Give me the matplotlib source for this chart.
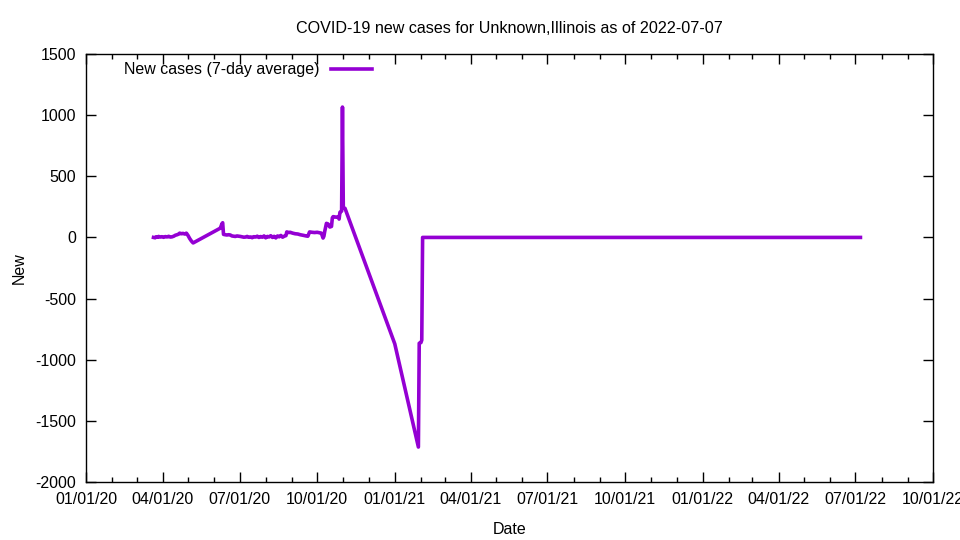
import pandas as pd
import matplotlib
matplotlib.use('Agg')
import matplotlib.pyplot as plt
import matplotlib.dates as mdates
from matplotlib.ticker import MultipleLocator

# 7-day average of new cases
dates = [
    '2020-03-21', '2020-03-23', '2020-03-24', '2020-03-26', '2020-03-27', '2020-03-29',
    '2020-03-31', '2020-04-02', '2020-04-04', '2020-04-06', '2020-04-08', '2020-04-10',
    '2020-04-12', '2020-04-14', '2020-04-16', '2020-04-18', '2020-04-20', '2020-04-21',
    '2020-04-23', '2020-04-25', '2020-04-27', '2020-04-29', '2020-05-01', '2020-05-03',
    '2020-05-05', '2020-05-07',
    '2020-06-08', '2020-06-09', '2020-06-10', '2020-06-11', '2020-06-12', '2020-06-14',
    '2020-06-16', '2020-06-18', '2020-06-20', '2020-06-22', '2020-06-24', '2020-06-26',
    '2020-06-28', '2020-06-30', '2020-07-02', '2020-07-04', '2020-07-06', '2020-07-08',
    '2020-07-10', '2020-07-12', '2020-07-14', '2020-07-16', '2020-07-18', '2020-07-20',
    '2020-07-22', '2020-07-24', '2020-07-26', '2020-07-28', '2020-07-30', '2020-08-01',
    '2020-08-03', '2020-08-05', '2020-08-07', '2020-08-09', '2020-08-11', '2020-08-13',
    '2020-08-15', '2020-08-17', '2020-08-19', '2020-08-21', '2020-08-23', '2020-08-25',
    '2020-08-26', '2020-08-28', '2020-08-30', '2020-09-02', '2020-09-05', '2020-09-08',
    '2020-09-11', '2020-09-14', '2020-09-18', '2020-09-20', '2020-09-22', '2020-09-25',
    '2020-09-28', '2020-10-01', '2020-10-04', '2020-10-06', '2020-10-07', '2020-10-08',
    '2020-10-09', '2020-10-10', '2020-10-12', '2020-10-14', '2020-10-16', '2020-10-18',
    '2020-10-19', '2020-10-20', '2020-10-24', '2020-10-26', '2020-10-27', '2020-10-28',
    '2020-10-29', '2020-10-30', '2020-10-31', '2020-11-01', '2020-11-03',
    '2021-01-01', '2021-01-29', '2021-01-30', '2021-02-01', '2021-02-02', '2021-02-03',
    '2022-07-07',
]
new_cases = [
    0, -3, 5, 2, 8, 3,
    6, 1, 7, 4, 9, 3,
    5, 10, 18, 22, 28, 35,
    30, 33, 28, 35, 15, -10,
    -30, -45,
    75, 90, 110, 120, 25, 22,
    20, 22, 20, 12, 10, 8,
    12, 10, 8, 5, 2, 3,
    8, 1, 4, -2, 6, 3,
    10, 0, 7, 2, 12, -3,
    8, 4, 14, 0, 9, -4,
    12, 5, 16, 2, 10, 15,
    45, 40, 42, 35, 30, 28,
    22, 18, 12, 10, 45, 42,
    40, 42, 38, 35, 15, -5,
    10, 50, 115, 110, 85, 90,
    160, 170, 165, 170, 150, 205,
    210, 215, 1066, 240, 238,
    -870, -1714, -865, -860, -840, 0,
    0,
]

x = pd.to_datetime(dates)

plt.rcParams['font.family'] = ['Liberation Sans', 'DejaVu Sans']
plt.rcParams['font.size'] = 11.5
plt.rcParams['axes.unicode_minus'] = False

fig = plt.figure(figsize=(9.6, 5.4), dpi=100)
ax = fig.add_axes([86 / 960, 1 - 482 / 540, 847 / 960, 428 / 540])

ax.plot(x, new_cases, color='#9400d3', linewidth=2.6, label='New cases (7-day average)')

ax.set_xlim(pd.Timestamp('2020-01-01'), pd.Timestamp('2022-10-01'))
ax.set_ylim(-2000, 1500)
ax.xaxis.set_major_locator(mdates.MonthLocator(bymonth=[1, 4, 7, 10]))
ax.xaxis.set_minor_locator(mdates.MonthLocator())
ax.xaxis.set_major_formatter(mdates.DateFormatter('%m/%d/%y'))
ax.yaxis.set_major_locator(MultipleLocator(500))

ax.tick_params(which='both', direction='in', top=True, right=True, color='black')
ax.tick_params(which='major', length=7, width=1, pad=7)
ax.tick_params(which='minor', length=3.5, width=1)
for s in ax.spines.values():
    s.set_linewidth(1)

ax.set_xlabel('Date', labelpad=11)
ax.set_ylabel('New', labelpad=6)
ax.set_title('COVID-19 new cases for Unknown,Illinois as of 2022-07-07',
             fontsize=11.6, pad=15)

ax.legend(loc='center left', bbox_to_anchor=(0.045, 0.963), frameon=False,
          markerfirst=False, handlelength=2.6, handletextpad=0.7,
          borderpad=0, borderaxespad=0)

fig.savefig('out.png', dpi=100)
